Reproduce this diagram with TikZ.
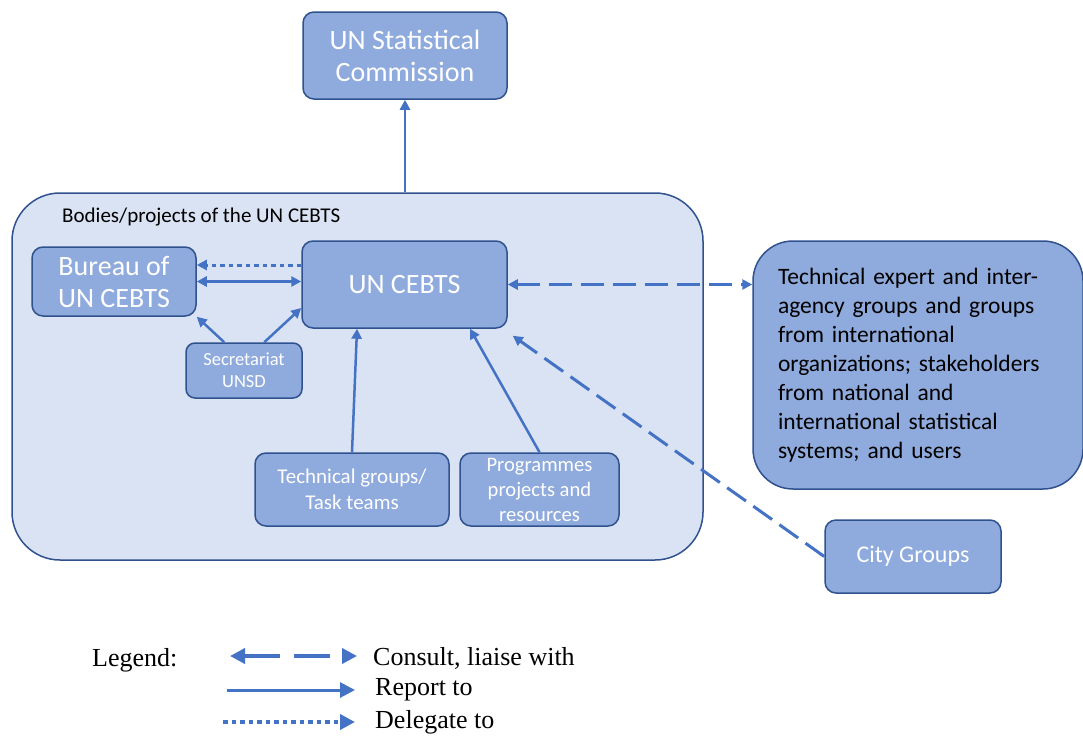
\documentclass[tikz,border=0pt]{standalone}
\usepackage{fontspec}
\setmainfont{Carlito}
\newfontfamily\legendfont{Liberation Serif}
\usetikzlibrary{arrows.meta,positioning,calc}
\definecolor{boxFill}{HTML}{8FAADC}
\definecolor{boxLine}{HTML}{2F528F}
\definecolor{areaFill}{HTML}{DAE3F3}
\definecolor{linkBlue}{HTML}{4472C4}

\begin{document}
\begin{tikzpicture}[
    x=1pt, y=-1pt,
    unit/.style={rectangle, rounded corners=11pt, draw=boxLine, line width=1.5pt, fill=boxFill, text=white, align=center, inner sep=2pt},
    big/.style={font=\fontsize{28}{32}\selectfont},
    report/.style={-{Triangle[length=10pt,width=10pt]}, linkBlue, line width=2.5pt},
    consult/.style={{Triangle[length=10pt,width=10pt]}-{Triangle[length=10pt,width=10pt]}, linkBlue, line width=3pt, dash pattern=on 23pt off 9pt},
    delegate/.style={-{Triangle[length=10pt,width=10pt]}, linkBlue, line width=3pt, dash pattern=on 4.5pt off 4pt},
    legendtext/.style={anchor=west, inner sep=0pt, font=\legendfont\fontsize{26}{28}\selectfont}
]
    \useasboundingbox (0,0) rectangle (1083,736);

    % Enclosing area
    \node[rectangle, rounded corners=48pt, draw=boxLine, line width=1.5pt, fill=areaFill,
          minimum width=691pt, minimum height=367pt] (bodies) at (357.5,376.5) {};
    \node[anchor=west, inner sep=0pt, font=\fontsize{21}{24}\selectfont] (bodieslabel) at (62,217) {Bodies/projects of the UN CEBTS};

    % Boxes
    \node[unit, big, minimum width=204pt, minimum height=87pt] (commission) at (405,55.5) {UN Statistical\\Commission};
    \node[unit, big, minimum width=164pt, minimum height=69pt] (bureau) at (114,281.5) {Bureau of\\UN CEBTS};
    \node[unit, big, minimum width=205pt, minimum height=87pt] (cebts) at (404.5,284.5) {UN CEBTS};
    \node[unit, font=\fontsize{18.5}{22}\selectfont, minimum width=116pt, minimum height=55pt, rounded corners=9pt] (secr) at (244,370.5) {Secretariat\\UNSD};
    \node[unit, font=\fontsize{21}{26}\selectfont, minimum width=194pt, minimum height=73pt] (tech) at (352,489.5) {Technical groups/\\Task teams};
    \node[unit, font=\fontsize{20.6}{25}\selectfont, minimum width=159pt, minimum height=73pt] (prog) at (539.5,489.5) {Programmes\\projects and\\resources};

    % Outside partners
    \node[unit, rounded corners=40pt, text=black, align=left, text width=280pt, inner xsep=25pt,
          minimum height=248pt, font=\fontsize{23.5}{29}\selectfont] (expert) at (918,365)
          {Technical expert and inter-\\agency groups and groups\\from international\\organizations; stakeholders\\from national and\\international statistical\\systems; and users};
    \node[unit, font=\fontsize{24}{26}\selectfont, minimum width=176pt, minimum height=73pt] (city) at (913,556.5) {City Groups};

    % Connectors
    \draw[report] (bodies.north -| commission.south) -- (commission.south);
    \draw[delegate] ([yshift=19.5pt]cebts.west) -- ([yshift=19.5pt]cebts.west -| bureau.east);
    \draw[report, {Triangle[length=10pt,width=10pt]}-{Triangle[length=10pt,width=10pt]}] (bureau.east) -- (bureau.east -| cebts.west);
    \draw[report] ([xshift=39pt]secr.north west) -- (bureau.south east);
    \draw[report] ([xshift=79pt]secr.north west) -- ([yshift=-23.5pt]cebts.west);
    \draw[report] (tech.north) -- ([xshift=-47.5pt]cebts.south);
    \draw[report] (prog.north) -- ([xshift=65.5pt]cebts.south);
    \draw[consult] (cebts.east) -- (cebts.east -| expert.west);
    \draw[consult, -{Triangle[length=10pt,width=10pt]}] (city.west) -- ([shift={(5pt,-7pt)}]cebts.south east);

    % Legend
    \node[legendtext] (legend) at (92,660) {Legend:};
    \coordinate (lc1) at (230,656);
    \coordinate (lc2) at (357,656);
    \coordinate (lr1) at (227,690);
    \coordinate (lr2) at (355,690);
    \coordinate (ld1) at (223,722);
    \coordinate (ld2) at (355,722);
    \draw[consult, {Triangle[length=15pt,width=15pt]}-{Triangle[length=15pt,width=15pt]}, dash pattern=on 36pt off 14pt, line width=4pt] (lc1) -- (lc2);
    \draw[report, -{Triangle[length=15pt,width=15pt]}, line width=3pt] (lr1) -- (lr2);
    \draw[delegate, -{Triangle[length=15pt,width=15pt]}, line width=4pt] (ld1) -- (ld2);
    \node[legendtext] (lcText) at (373,658) {Consult, liaise with};
    \node[legendtext] (lrText) at (375,690) {Report to};
    \node[legendtext] (ldText) at (375,722) {Delegate to};
\end{tikzpicture}
\end{document}
